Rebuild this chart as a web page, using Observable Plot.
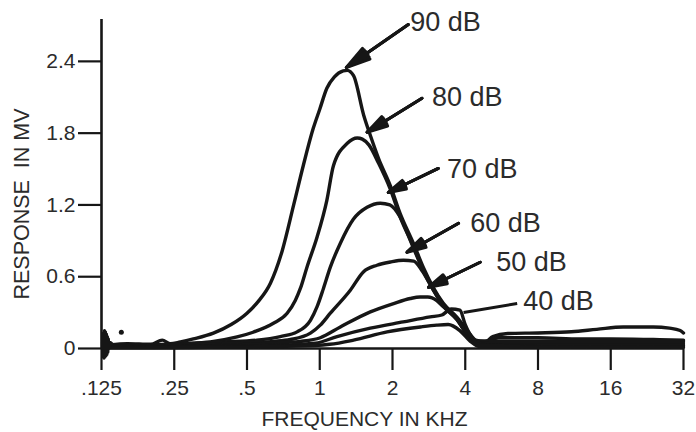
<!DOCTYPE html>
<html>
<head>
<meta charset="utf-8">
<script src="https://cdn.jsdelivr.net/npm/d3@7"></script>
<script src="https://cdn.jsdelivr.net/npm/@observablehq/plot@0.6"></script>
<style>
  html, body { margin: 0; padding: 0; background: #fff; }
</style>
</head>
<body>
<div id="chart"></div>
<script>
// ---- Axis ticks ----
const xTicks = [0.125, 0.25, 0.5, 1, 2, 4, 8, 16, 32];
const xTickLabels = [".125", ".25", ".5", "1", "2", "4", "8", "16", "32"];
const yTicks = [0, 0.6, 1.2, 1.8, 2.4];
const yTickLabels = ["0", "0.6", "1.2", "1.8", "2.4"];

// ---- Response curves (frequency in kHz, response in mV) ----
const freq90 = [0.135, 0.16, 0.2, 0.223, 0.24, 0.265, 0.3, 0.363, 0.43, 0.5, 0.56, 0.625, 0.7, 0.78, 0.855, 0.94, 1.0, 1.07, 1.15, 1.25, 1.3, 1.38, 1.52, 1.62, 1.75, 1.96, 2.15, 2.44, 2.68, 2.95, 3.24, 3.7, 4.08, 4.48, 4.8, 5.2, 6, 8, 11, 14, 18, 24, 28, 31, 32];
const mv90   = [0.03, 0.04, 0.035, 0.07, 0.04, 0.055, 0.08, 0.128, 0.2, 0.295, 0.4, 0.546, 0.82, 1.2, 1.53, 1.84, 2.0, 2.175, 2.27, 2.32, 2.325, 2.28, 1.95, 1.78, 1.59, 1.36, 1.13, 0.88, 0.68, 0.51, 0.38, 0.26, 0.15, 0.06, 0.05, 0.1, 0.125, 0.13, 0.14, 0.16, 0.18, 0.18, 0.17, 0.15, 0.13];

const freq80 = [0.135, 0.2, 0.3, 0.363, 0.455, 0.53, 0.643, 0.733, 0.793, 0.832, 0.886, 0.975, 1.07, 1.14, 1.3, 1.43, 1.5, 1.6, 1.75, 1.96, 2.15, 2.43, 2.68, 2.95, 3.24, 3.7, 4.0, 4.4, 4.8, 5.5, 8, 12, 16, 24, 32];
const mv80   = [0.02, 0.03, 0.045, 0.06, 0.097, 0.136, 0.211, 0.295, 0.404, 0.504, 0.682, 0.932, 1.239, 1.53, 1.715, 1.76, 1.75, 1.70, 1.55, 1.33, 1.10, 0.86, 0.66, 0.50, 0.37, 0.25, 0.15, 0.07, 0.06, 0.09, 0.09, 0.08, 0.08, 0.075, 0.07];

const freq70 = [0.135, 0.25, 0.4, 0.55, 0.687, 0.806, 0.915, 0.975, 1.035, 1.106, 1.217, 1.377, 1.57, 1.78, 1.95, 2.15, 2.43, 2.68, 2.95, 3.24, 3.7, 4.0, 4.4, 5, 8, 16, 32];
const mv70   = [0.02, 0.035, 0.055, 0.07, 0.1, 0.139, 0.236, 0.35, 0.5, 0.68, 0.88, 1.08, 1.18, 1.214, 1.2, 1.1, 0.85, 0.65, 0.49, 0.36, 0.25, 0.14, 0.06, 0.06, 0.06, 0.06, 0.06];

const freq60 = [0.135, 0.3, 0.5, 0.65, 0.756, 0.915, 1.005, 1.106, 1.338, 1.515, 1.725, 1.96, 2.216, 2.45, 2.65, 2.95, 3.24, 3.7, 4.0, 4.4, 5, 8, 16, 32];
const mv60   = [0.015, 0.03, 0.05, 0.06, 0.075, 0.128, 0.195, 0.295, 0.487, 0.64, 0.696, 0.723, 0.738, 0.73, 0.65, 0.49, 0.36, 0.24, 0.14, 0.05, 0.045, 0.045, 0.045, 0.045];

const freq50 = [0.135, 0.4, 0.7, 0.832, 1.005, 1.217, 1.619, 2.021, 2.37, 2.6, 2.8, 3.05, 3.24, 3.7, 4.0, 4.4, 5, 8, 16, 32];
const mv50   = [0.01, 0.025, 0.05, 0.06, 0.09, 0.18, 0.306, 0.376, 0.418, 0.43, 0.43, 0.40, 0.35, 0.24, 0.14, 0.05, 0.03, 0.03, 0.03, 0.03];

const freq40 = [0.135, 0.5, 0.959, 1.179, 1.619, 2.216, 2.866, 3.2, 3.5, 3.8, 4.0, 4.3, 4.6, 8, 16, 32];
const mv40   = [0.01, 0.02, 0.045, 0.1, 0.17, 0.222, 0.264, 0.28, 0.33, 0.32, 0.2, 0.08, 0.03, 0.02, 0.02, 0.02];

// lowest, unlabeled trace
const freqLow = [0.135, 0.8, 1.1, 1.38, 1.9, 2.61, 3.05, 3.4, 3.8, 4.2, 4.6, 32];
const mvLow   = [0.005, 0.02, 0.035, 0.07, 0.139, 0.18, 0.195, 0.2, 0.15, 0.06, 0.015, 0.01];

// onset noise near .125 kHz
const freqNoise = [0.1262, 0.1268, 0.1274, 0.128, 0.1286, 0.1292, 0.1298, 0.1304, 0.131, 0.1316, 0.1322, 0.1328, 0.1334, 0.134, 0.136, 0.138];
const mvNoise   = [0.05, -0.07, 0.13, -0.08, 0.15, -0.07, 0.14, -0.06, 0.12, -0.05, 0.1, -0.03, 0.08, 0.0, 0.05, 0.04];
const freqDot = [0.151];
const mvDot = [0.135];

// ---- Annotations ----
const labelNames = ["90 dB", "80 dB", "70 dB", "60 dB", "50 dB", "40 dB"];
const labelFreq  = [2.37, 2.914, 3.36, 4.195, 5.374, 6.95];
const labelMv    = [2.727, 2.10, 1.498, 1.046, 0.721, 0.395];
const arrowFromFreq = [2.325, 2.649, 3.094, 3.754, 4.613, 6.56];
const arrowFromMv   = [2.708, 2.092, 1.505, 1.047, 0.721, 0.376];
const arrowToFreq   = [1.288, 1.569, 1.921, 2.296, 2.82, 3.936];
const arrowToMv     = [2.349, 1.808, 1.304, 0.805, 0.512, 0.301];
const arrowHasHead  = [true, true, true, true, true, false];

const xTitle = "FREQUENCY IN KHZ";
const yTitle = "RESPONSE\u00A0 IN MV";

// ---- Build tables ----
const series = [
  {name: "90 dB", f: freq90, v: mv90},
  {name: "80 dB", f: freq80, v: mv80},
  {name: "70 dB", f: freq70, v: mv70},
  {name: "60 dB", f: freq60, v: mv60},
  {name: "50 dB", f: freq50, v: mv50},
  {name: "40 dB", f: freq40, v: mv40},
  {name: "low", f: freqLow, v: mvLow}
];
const rows = [];
series.forEach(s => s.f.forEach((f, i) => rows.push({series: s.name, f, mv: s.v[i]})));
const noise = freqNoise.map((f, i) => ({f, mv: mvNoise[i]}));
const dots = freqDot.map((f, i) => ({f, mv: mvDot[i]}));
const annot = labelNames.map((name, i) => ({
  name, lx: labelFreq[i], ly: labelMv[i],
  fx: arrowFromFreq[i], fy: arrowFromMv[i],
  tx: arrowToFreq[i], ty: arrowToMv[i], head: arrowHasHead[i]
}));
const withHead = annot.filter(d => d.head);
const noHead = annot.filter(d => !d.head);
const xTickRows = xTicks.map((v, i) => ({v, label: xTickLabels[i]}));
const yTickRows = yTicks.map((v, i) => ({v, label: yTickLabels[i]}));

const ink = "#161616";
const textInk = "#2b2b2b";
const font = "'Liberation Sans', Arial, Helvetica, sans-serif";
const arrowOpts = (angle) => ({x1: "fx", y1: "fy", x2: "tx", y2: "ty", stroke: ink, strokeWidth: 3, headLength: 20, headAngle: angle});

const chart = Plot.plot({
  width: 696,
  height: 432,
  marginLeft: 101,
  marginRight: 13,
  marginTop: 19,
  marginBottom: 84,
  style: {fontFamily: font, fontSize: "20px", color: textInk, background: "#fff"},
  x: {type: "log", base: 2, domain: [0.125, 32]},
  y: {domain: [0, 2.75]},
  marks: [
    Plot.axisX({ticks: xTicks, tickFormat: () => "", tickSize: 22, strokeWidth: 2.2, stroke: ink, label: null}),
    Plot.axisY({ticks: yTicks, tickFormat: () => "", tickSize: 23, strokeWidth: 2.2, stroke: ink, label: null}),
    Plot.text(xTickRows, {x: "v", text: "label", frameAnchor: "bottom", lineAnchor: "top", textAnchor: "middle", dy: 32, fontSize: 21, fill: textInk}),
    Plot.text(yTickRows, {y: "v", text: "label", frameAnchor: "left", lineAnchor: "middle", textAnchor: "end", dx: -26, fontSize: 21, fill: textInk}),
    Plot.ruleX([0.125], {stroke: ink, strokeWidth: 2.6}),
    Plot.ruleY([0], {stroke: ink, strokeWidth: 2.6}),
    Plot.line(rows, {x: "f", y: "mv", z: "series", stroke: ink, strokeWidth: 3.4, curve: "monotone-x"}),
    Plot.line(noise, {x: "f", y: "mv", stroke: ink, strokeWidth: 3.2}),
    Plot.dot(dots, {x: "f", y: "mv", r: 2.5, fill: ink}),
    Plot.arrow(withHead, arrowOpts(30)),
    Plot.arrow(withHead, arrowOpts(20)),
    Plot.arrow(withHead, arrowOpts(10)),
    Plot.link(noHead, {x1: "fx", y1: "fy", x2: "tx", y2: "ty", stroke: ink, strokeWidth: 3}),
    Plot.text(annot, {x: "lx", y: "ly", text: "name", textAnchor: "start", fontSize: 27, fill: textInk}),
    Plot.text([xTitle], {text: d => d, frameAnchor: "bottom", textAnchor: "middle", lineAnchor: "middle", dx: -28, dy: 71, fontSize: 21, fill: textInk}),
    Plot.text([yTitle], {text: d => d, frameAnchor: "left", textAnchor: "middle", lineAnchor: "middle", rotate: -90, dx: -79, dy: 20, fontSize: 21.5, fill: textInk})
  ]
});
document.getElementById("chart").appendChild(chart);
</script>
</body>
</html>
